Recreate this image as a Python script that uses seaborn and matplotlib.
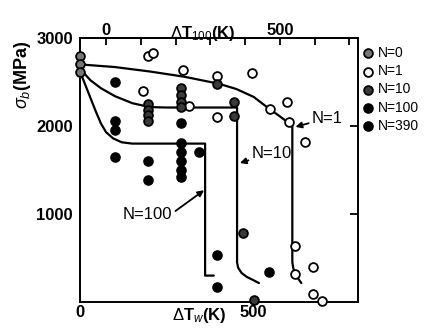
import matplotlib
matplotlib.use("Agg")
import matplotlib.pyplot as plt
import seaborn as sns
import pandas as pd

# ---- data (ΔTw in K, σb in MPa) ----
n0_x = [0, 0, 0]
n0_y = [2790, 2700, 2610]

n1_x = [180, 195, 210, 295, 315, 395, 394, 495, 548, 595, 600, 648, 620, 620, 670, 670, 695]
n1_y = [2400, 2800, 2830, 2635, 2230, 2570, 2100, 2600, 2190, 2270, 2045, 1820, 640, 320, 400, 90, 10]

n10_x = [195, 195, 195, 195, 290, 290, 290, 290, 395, 443, 443, 468, 500]
n10_y = [2250, 2180, 2120, 2060, 2430, 2350, 2270, 2215, 2480, 2270, 2110, 785, 20]

n100_x = [100, 100, 100, 100, 197, 290, 290, 290, 290, 290, 343, 395, 545]
n100_y = [2500, 2060, 1955, 1650, 1600, 2030, 1810, 1700, 1600, 1500, 1700, 530, 340]

n390_x = [197, 290, 395]
n390_y = [1385, 1420, 170]

curve1_x = [0, 100, 200, 300, 400, 450, 500, 543, 575, 600, 611, 611, 614, 620, 628, 637]
curve1_y = [2700, 2670, 2620, 2560, 2480, 2420, 2330, 2200, 2110, 2035, 2000, 450, 380, 320, 265, 215]

curve10_x = [0, 30, 60, 100, 150, 200, 250, 452, 452, 455, 465, 480, 498, 515]
curve10_y = [2650, 2520, 2430, 2340, 2260, 2215, 2210, 2210, 450, 390, 330, 285, 250, 215]

curve100_x = [0, 15, 30, 45, 60, 75, 95, 120, 150, 360, 360, 385]
curve100_y = [2620, 2470, 2320, 2170, 2030, 1930, 1860, 1815, 1800, 1800, 300, 300]

labels = ["N=0", "N=1", "N=10", "N=100", "N=390"]
xticks_bottom = [0, 100, 200, 300, 400, 500, 600, 700]
xticks_top = [0, 100, 200, 300, 400, 500, 600, 700]
yticks = [1000, 2000, 3000]

sns.set_theme(style="white")
plt.rcParams["font.family"] = ["Liberation Sans", "DejaVu Sans"]
plt.rcParams["text.color"] = "black"
plt.rcParams["axes.labelcolor"] = "black"
plt.rcParams["mathtext.fontset"] = "custom"
plt.rcParams["mathtext.rm"] = "Liberation Sans"
plt.rcParams["mathtext.it"] = "Liberation Sans:italic"
plt.rcParams["mathtext.bf"] = "Liberation Sans:bold"
narrow = ["Liberation Sans Narrow", "Liberation Sans", "DejaVu Sans"]

fig = plt.figure(figsize=(4.25, 3.29), dpi=100)
ax = fig.add_axes([80 / 425, 27 / 329, 278 / 425, 264 / 329])

for cx, cy in [(curve1_x, curve1_y), (curve10_x, curve10_y), (curve100_x, curve100_y)]:
    d = pd.DataFrame({"x": cx, "y": cy})
    sns.lineplot(data=d, x="x", y="y", sort=False, estimator=None, color="black",
                 linewidth=1.6, ax=ax, zorder=2)

groups = [
    (n0_x, n0_y, "#777777"),
    (n1_x, n1_y, "white"),
    (n10_x, n10_y, "#3a3a3a"),
    (n100_x, n100_y, "black"),
    (n390_x, n390_y, "black"),
]
for (gx, gy, fc), lab in zip(groups, labels):
    sns.scatterplot(x=gx, y=gy, marker="o", s=40, color=fc, edgecolor="black",
                    linewidth=1.3, ax=ax, label=lab, zorder=3, clip_on=False)

ax.set_xlim(0, 800)
ax.set_ylim(0, 3000)

ax.set_xticks(xticks_bottom)
ax.set_xticklabels([str(t) if t in (0, 500) else "" for t in xticks_bottom],
                   fontweight="bold")
ax.set_yticks(yticks)
ax.set_yticklabels([str(t) for t in yticks], fontweight="bold")
ax.tick_params(axis="x", direction="in", length=5, width=1.3, pad=2, labelsize=12,
               colors="black")
ax.tick_params(axis="y", direction="in", length=6, width=1.3, pad=5, labelsize=12,
               colors="black", right=True)
for sp in ax.spines.values():
    sp.set_color("black")
    sp.set_linewidth(1.4)

sec = ax.secondary_xaxis("top", functions=(lambda v: v - 75, lambda v: v + 75))
sec.set_xticks(xticks_top)
sec.set_xticklabels([str(t) if t in (0, 500) else "" for t in xticks_top],
                    fontweight="bold")
sec.tick_params(direction="in", length=5, width=1.3, pad=0, labelsize=12, colors="black")
sec.spines["top"].set_linewidth(1.4)
sec.set_xlabel(r"$\Delta$T$_{100}$(K)", fontsize=12, fontweight="bold")
sec.xaxis.set_label_coords(0.44, 1.085)

ax.set_xlabel(r"$\Delta$T$_{w}$(K)", fontsize=12, fontweight="bold")
ax.xaxis.set_label_coords(0.43, -0.015)
ax.set_ylabel(r"$\sigma_b$(MPa)", fontsize=13, fontweight="bold")
ax.yaxis.set_label_coords(-0.17, 0.86)

arrow = dict(arrowstyle="-|>", color="black", lw=1.3, mutation_scale=9, shrinkA=0, shrinkB=0)
ax.annotate("N=1", xy=(620, 1990), xytext=(712, 2090), ha="center", va="center",
            fontsize=12, family=narrow, arrowprops=arrow)
ax.annotate("N=10", xy=(460, 1580), xytext=(552, 1690), ha="center", va="center",
            fontsize=12, family=narrow, arrowprops=arrow)
ax.annotate("N=100", xy=(357, 1270), xytext=(194, 990), ha="center", va="center",
            fontsize=12, family=narrow,
            arrowprops=dict(arrow, relpos=(1.0, 0.6)))

leg = ax.legend(loc="upper left", bbox_to_anchor=(1.0, 0.985), frameon=False,
                handletextpad=0.25, labelspacing=0.3, borderaxespad=0.2,
                handlelength=0.9, borderpad=0.1,
                prop={"family": narrow, "size": 10})

fig.savefig("out.png", dpi=100)
